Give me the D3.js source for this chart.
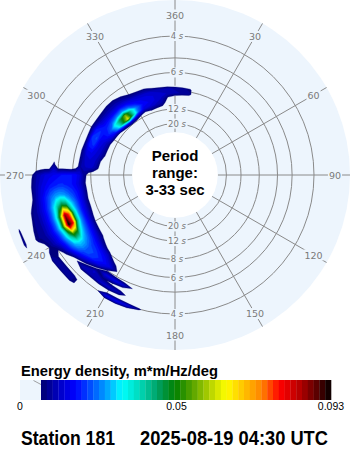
<!DOCTYPE html>
<html>
<head>
<meta charset="utf-8">
<script src="https://cdn.jsdelivr.net/npm/d3@7"></script>
<style>
  html, body { margin: 0; padding: 0; background: #ffffff; }
  svg { display: block; }
</style>
</head>
<body>
<svg id="chart" width="350" height="450"></svg>
<script>
// ---- Spectrum data: energy density in 0.001 m*m/Hz/deg ----
const directions = [190, 195, 200, 205, 210, 215, 220, 225, 230, 235, 240, 245, 250, 255,
  260, 265, 270, 275, 280, 285, 290, 295, 300, 305, 310, 315, 320, 325, 330, 335,
  340, 345, 350, 355, 0, 5, 10, 15, 20];
const frequencies = [0.08, 0.09, 0.10, 0.11, 0.12, 0.13, 0.14, 0.15, 0.16, 0.17, 0.18, 0.19,
  0.20, 0.21, 0.22, 0.23, 0.24, 0.25, 0.26, 0.27, 0.28, 0.29, 0.30, 0.31, 0.32];
const ENERGY_UNIT = 0.001;
// one row per direction, one value per frequency
const energyByDirection = [
  [0,0,0,0,0,0,0,0,0,0,0,0,0,0,0,0,0,0,0,0,0,0,0,0,0],        // 190
  [0,0,0,0,0,0,0,0,0,0,0,0,0,0,0,0,0,8,0,0,0,0,0,0,0],        // 195
  [0,0,0,0,0,0,0,0,0,0,0,0,0,6,0,3,0,14,0,0,0,0,0,0,0],       // 200
  [0,0,0,0,0,0,0,0,0,0,0,0,2,13,3,11,2,16,1,0,0,0,0,0,0],     // 205
  [0,0,0,0,0,0,0,0,0,0,2,5,4,16,5,13,3,15,1,0,0,0,0,0,0],     // 210
  [0,0,0,0,0,0,0,0,0,3,10,14,6,14,8,13,3,4,0,0,0,0,0,0,0],    // 215
  [0,0,0,0,0,0,0,0,4,12,16,18,15,6,13,11,3,0,3,3,0,0,0,0,0],  // 220
  [0,0,0,0,0,0,0,3,9,15,19,21,20,14,6,12,4,2,9,9,2,0,0,0,0],  // 225
  [0,0,0,0,0,0,3,8,13,18,21,23,23,20,14,5,2,3,9,9,2,0,0,0,0], // 230
  [0,0,0,0,0,0,4,10,16,21,26,30,31,28,22,15,8,3,8,10,3,0,0,0,0],   // 235
  [0,0,0,0,0,0,5,12,18,24,32,48,52,40,28,20,15,11,8,5,2,0,0,0,0],  // 240
  [0,0,0,0,0,2,7,13,19,27,44,80,93,60,34,23,17,13,10,9,8,4,0,9,0], // 245
  [0,0,0,0,0,3,8,14,19,27,42,74,86,56,33,23,17,13,10,9,6,2,0,8,0], // 250
  [0,0,0,0,0,2,8,14,19,25,32,44,48,40,30,22,17,13,10,8,3,0,0,0,0], // 255
  [0,0,0,0,0,2,9,14,18,21,24,27,28,27,24,20,16,12,8,3,0,0,0,0,0],  // 260
  [0,0,0,0,0,2,8,13,16,18,19,20,20,19,18,16,14,11,8,1,0,0,0,0,0],  // 265
  [0,0,0,0,2,4,9,14,17,18,18,18,17,16,15,14,12,10,6,0,0,0,0,0,0],  // 270
  [0,0,1,8,12,13,12,10,3,0,0,0,0,9,0,0,0,0,0,0,0,0,0,0,0],         // 275
  [0,0,3,10,13,14,13,9,2,0,0,0,0,0,0,0,0,0,0,0,0,0,0,0,0],         // 280
  [0,1,8,12,14,16,15,9,2,0,0,0,0,0,0,0,0,0,0,0,0,0,0,0,0],         // 285
  [0,2,9,13,15,20,19,8,1,0,0,0,0,0,0,0,0,0,0,0,0,0,0,0,0],         // 290
  [0,2,10,14,16,22,20,8,1,0,0,0,0,0,0,0,0,0,0,0,0,0,0,0,0],        // 295
  [0,4,14,18,18,20,18,9,2,0,0,0,0,0,0,0,0,0,0,0,0,0,0,0,0],        // 300
  [0,5,18,23,20,17,13,8,2,0,0,0,0,0,0,0,0,0,0,0,0,0,0,0,0],        // 305
  [1,8,30,34,23,17,12,8,3,0,0,0,0,0,0,0,0,0,0,0,0,0,0,0,0],        // 310
  [2,11,46,45,26,17,12,9,4,0,0,0,0,0,0,0,0,0,0,0,0,0,0,0,0],       // 315
  [2,14,62,56,28,18,12,9,4,0,0,0,0,0,0,0,0,0,0,0,0,0,0,0,0],       // 320
  [2,12,42,40,23,16,11,7,2,0,0,0,0,0,0,0,0,0,0,0,0,0,0,0,0],       // 325
  [1,8,24,25,18,14,9,4,0,0,0,0,0,0,0,0,0,0,0,0,0,0,0,0,0],         // 330
  [0,5,15,18,16,13,8,2,0,0,0,0,0,0,0,0,0,0,0,0,0,0,0,0,0],         // 335
  [1,7,14,16,15,13,8,1,0,0,0,0,0,0,0,0,0,0,0,0,0,0,0,0,0],         // 340
  [0,6,12,14,14,12,5,0,0,0,0,0,0,0,0,0,0,0,0,0,0,0,0,0,0],         // 345
  [0,5,10,12,13,11,3,0,0,0,0,0,0,0,0,0,0,0,0,0,0,0,0,0,0],         // 350
  [0,0,3,6,12,11,2,0,0,0,0,0,0,0,0,0,0,0,0,0,0,0,0,0,0],           // 355
  [0,0,0,4,11,10,1,0,0,0,0,0,0,0,0,0,0,0,0,0,0,0,0,0,0],           // 0
  [0,0,0,3,10,9,0,0,0,0,0,0,0,0,0,0,0,0,0,0,0,0,0,0,0],            // 5
  [0,0,0,2,9,8,0,0,0,0,0,0,0,0,0,0,0,0,0,0,0,0,0,0,0],             // 10
  [0,0,0,0,0,0,0,0,0,0,0,0,0,0,0,0,0,0,0,0,0,0,0,0,0],             // 15
  [0,0,0,0,0,0,0,0,0,0,0,0,0,0,0,0,0,0,0,0,0,0,0,0,0]              // 20
];

// ---- Axis / legend labels ----
const bearingLabels = [360, 30, 60, 90, 120, 150, 180, 210, 240, 270, 300, 330];
const periodCircles = [20, 12, 8, 6, 5, 4];
const periodLabels = [20, 12, 8, 6, 4];
const periodRange = [3, 33];
const colorbarTicks = [0, 0.05, 0.093];
const colorbarTitle = "Energy density, m*m/Hz/deg";
const stationName = "Station 181";
const timestamp = "2025-08-19 04:30 UTC";

// ---- Layout / style ----
const cx = 175, cy = 175;
const discRadius = 175;
const innerRadius = 42.8;
const discColor = "#edf5fd";
const gridColor = "#8a8a8a";
const labelColor = "#7a7a7a";
const bar = { x0: 20, xColor: 41, x1: 331, y: 380, h: 20, bands: 50 };

// jet-like ramp along the coloured part of the bar
const rampStops = [0, 0.0655, 0.117, 0.186, 0.238, 0.279, 0.341, 0.403, 0.462,
  0.531, 0.583, 0.638, 0.703, 0.762, 0.824, 0.893, 0.945, 1];
const rampColors = ["#000070", "#0000c8", "#0000ff", "#0064ff", "#00b4ff", "#00ffff",
  "#00d8b8", "#00a064", "#008000", "#64aa00", "#b4d200", "#ffff00", "#ffbe00",
  "#ff8200", "#ff0000", "#b40000", "#640000", "#000000"];
const ramp = d3.scaleLinear().domain(rampStops).range(rampColors).interpolate(d3.interpolateRgb);

const svg = d3.select("#chart");

// frequency -> radius (linear in frequency between the period limits)
const rScale = d3.scaleLinear()
  .domain([1 / periodRange[1], 1 / periodRange[0]])
  .range([innerRadius, discRadius + 0.5]);

const polar = (deg, r) => {
  const a = deg * Math.PI / 180;
  return [cx + r * Math.sin(a), cy - r * Math.cos(a)];
};

// ---- Disc and grid ----
const gGrid = svg.append("g");
gGrid.append("circle").attr("cx", cx).attr("cy", cy).attr("r", discRadius).attr("fill", discColor);

gGrid.selectAll("circle.period").data(periodCircles).join("circle")
  .attr("class", "period")
  .attr("cx", cx).attr("cy", cy)
  .attr("r", d => rScale(1 / d))
  .attr("fill", "none").attr("stroke", gridColor).attr("stroke-width", 1);

gGrid.selectAll("line.spoke").data(bearingLabels).join("line")
  .attr("class", "spoke")
  .attr("x1", d => polar(d, innerRadius)[0]).attr("y1", d => polar(d, innerRadius)[1])
  .attr("x2", d => polar(d, discRadius)[0]).attr("y2", d => polar(d, discRadius)[1])
  .attr("stroke", gridColor).attr("stroke-width", 1);

// labels with a background patch that interrupts the grid lines
function labelWithBackground(parent, x, y, build) {
  const g = parent.append("g");
  const bg = g.append("rect").attr("fill", discColor);
  const t = g.append("text").attr("x", x).attr("y", y);
  build(t);
  const bb = t.node().getBBox();
  bg.attr("x", bb.x - 1).attr("y", bb.y).attr("width", bb.width + 2).attr("height", bb.height);
}

const gLabels = svg.append("g");
bearingLabels.forEach(d => {
  const [x, y] = polar(d, 160);
  labelWithBackground(gLabels, x, y + 3.5, t => t
    .attr("text-anchor", "middle")
    .attr("font-family", "DejaVu Sans, sans-serif")
    .attr("font-size", 9.5)
    .attr("fill", labelColor)
    .text(d));
});

periodLabels.forEach(p => {
  const r = rScale(1 / p);
  [-1, 1].forEach(side => {
    labelWithBackground(gLabels, cx + 2, cy + side * r + 3, t => {
      t.attr("text-anchor", "middle")
        .attr("font-family", "DejaVu Sans, sans-serif")
        .attr("font-size", 8.5)
        .attr("fill", labelColor);
      t.append("tspan").text(p + " ");
      t.append("tspan").attr("font-style", "italic").text("s");
    });
  });
});

// ---- Colour levels shared by spectrum and colour bar ----
const barScale = d3.scaleLinear()
  .domain(colorbarTicks)
  .range([bar.x0, 176.5, bar.x1]);
const bandWidth = (bar.x1 - bar.xColor) / bar.bands;
const levels = d3.range(bar.bands).map(b => {
  const x = bar.xColor + b * bandWidth;
  return { x, value: barScale.invert(x), color: ramp((b + 0.5) / bar.bands) };
});

// ---- Spectrum as filled contours projected onto the polar grid ----
const nDir = directions.length, nFreq = frequencies.length;
const unwrapped = [];
directions.forEach((d, i) => {
  let v = d;
  if (i > 0) while (v < unwrapped[i - 1]) v += 360;
  unwrapped.push(v);
});
const dirAt = d3.scaleLinear().domain(d3.range(nDir)).range(unwrapped);
const freqAt = d3.scaleLinear().domain(d3.range(nFreq)).range(frequencies);

const values = new Array(nDir * nFreq);
for (let j = 0; j < nFreq; j++)
  for (let i = 0; i < nDir; i++)
    values[j * nDir + i] = energyByDirection[i][j] * ENERGY_UNIT;

const contours = d3.contours()
  .size([nDir, nFreq])
  .thresholds(levels.map(l => l.value))(values);

const project = ([gx, gy]) => polar(dirAt(gx - 0.5), rScale(freqAt(gy - 0.5)));
const contourPath = geom => geom.coordinates.map(poly =>
  poly.map(ring => "M" + ring.map(p => project(p).map(v => v.toFixed(2)).join(",")).join("L") + "Z").join("")
).join("");

svg.append("g").selectAll("path").data(contours).join("path")
  .attr("d", contourPath)
  .attr("fill", (d, i) => levels[i].color)
  .attr("stroke", (d, i) => levels[i].color)
  .attr("stroke-width", 0.3)
  .attr("fill-rule", "evenodd");

// ---- Centre ----
svg.append("circle").attr("cx", cx).attr("cy", cy).attr("r", innerRadius).attr("fill", "#ffffff");
const centreLines = ["Period", "range:", `${periodRange[0]}-${periodRange[1]} sec`];
svg.append("g").selectAll("text").data(centreLines).join("text")
  .attr("x", cx).attr("y", (d, i) => 160.5 + i * 17)
  .attr("text-anchor", "middle")
  .attr("font-family", "Liberation Sans, Arial, sans-serif")
  .attr("font-weight", "bold")
  .attr("font-size", 15)
  .attr("fill", "#000")
  .text(d => d);

// ---- Colour bar ----
const gBar = svg.append("g");
gBar.append("text")
  .attr("x", 21).attr("y", 375.5)
  .attr("font-family", "Liberation Sans, Arial, sans-serif")
  .attr("font-weight", "bold").attr("font-size", 15)
  .attr("textLength", 197).attr("lengthAdjust", "spacingAndGlyphs")
  .text(colorbarTitle);

gBar.append("rect")
  .attr("x", bar.x0).attr("y", bar.y)
  .attr("width", bar.xColor - bar.x0).attr("height", bar.h)
  .attr("fill", discColor);
gBar.append("line")
  .attr("x1", 33.5).attr("y1", bar.y + 0.5).attr("x2", bar.xColor).attr("y2", bar.y + 4.5)
  .attr("stroke", gridColor).attr("stroke-width", 0.8);
gBar.selectAll("rect.band").data(levels).join("rect")
  .attr("class", "band")
  .attr("x", d => d.x).attr("y", bar.y)
  .attr("width", bandWidth + 0.3).attr("height", bar.h)
  .attr("fill", d => d.color);

gBar.selectAll("text.tick").data(colorbarTicks).join("text")
  .attr("class", "tick")
  .attr("x", d => barScale(d))
  .attr("y", 410)
  .attr("text-anchor", "middle")
  .attr("font-family", "Liberation Sans, Arial, sans-serif")
  .attr("font-size", 10.5)
  .attr("fill", "#000")
  .text(d => d);

// ---- Footer ----
const footer = svg.append("g")
  .attr("font-family", "Liberation Sans, Arial, sans-serif")
  .attr("font-weight", "bold").attr("font-size", 20.5);
footer.append("text").attr("x", 21).attr("y", 444.5)
  .attr("textLength", 94).attr("lengthAdjust", "spacingAndGlyphs").text(stationName);
footer.append("text").attr("x", 140).attr("y", 444.5)
  .attr("textLength", 188).attr("lengthAdjust", "spacingAndGlyphs").text(timestamp);
</script>
</body>
</html>
